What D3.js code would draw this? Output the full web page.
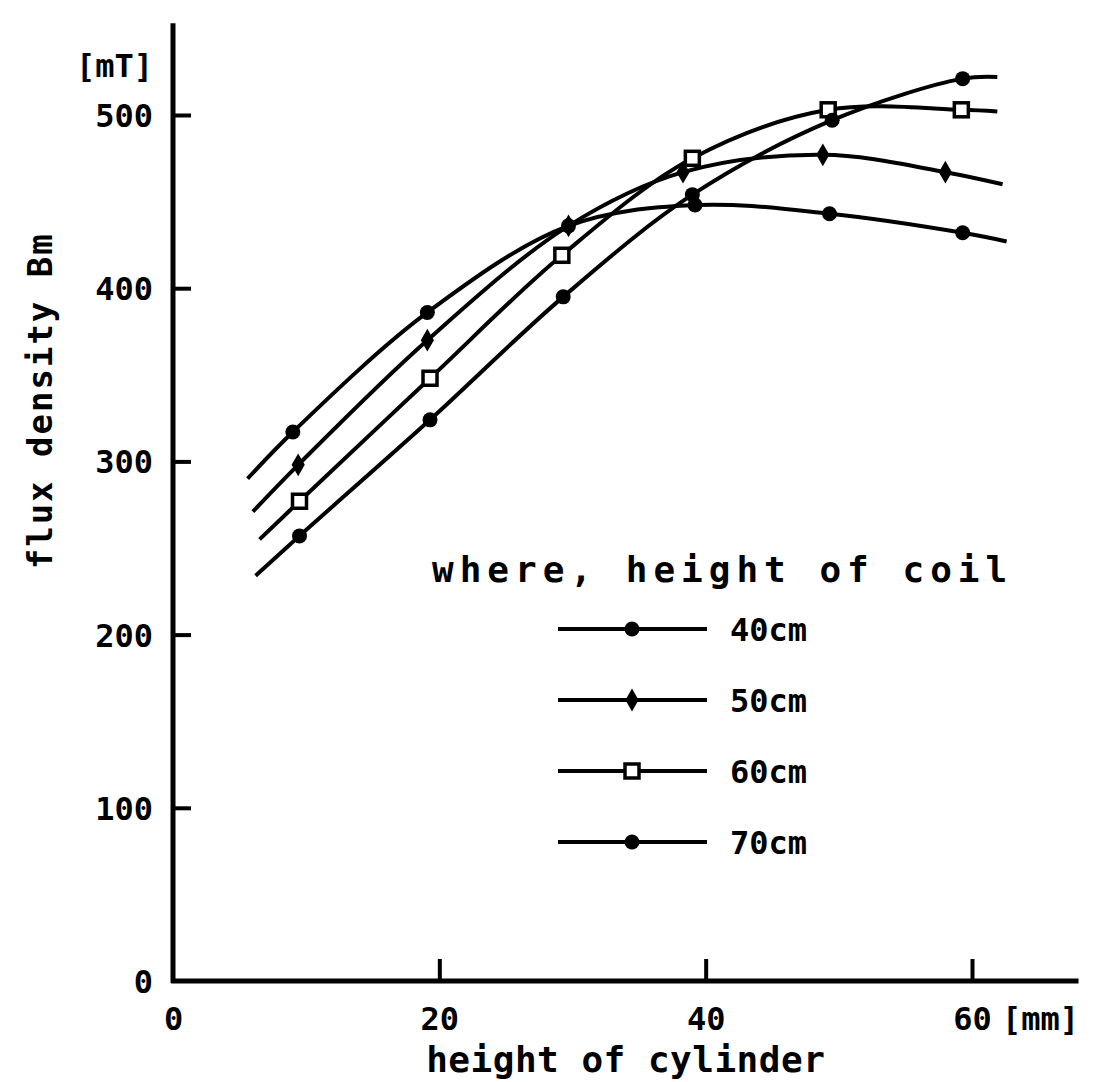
<!DOCTYPE html>
<html>
<head>
<meta charset="utf-8">
<script src="https://cdn.jsdelivr.net/npm/d3@7"></script>
<style>
  body { margin: 0; background: #fff; }
  text { font-family: "DejaVu Sans Mono", "Liberation Mono", monospace; font-weight: bold; fill: #000; }
</style>
</head>
<body>
<div id="chart"></div>
<script>
// values: x = height of cylinder [mm], y = Bm [mT]
// first and last entry of each series is only where the drawn line starts / stops (no marker there)
const coilHeights = ["40cm", "50cm", "60cm", "70cm"];
const cyl40 = [5.6, 9.0, 19.1, 29.7, 39.2, 49.3, 59.3, 62.6];
const flux40 = [290, 317, 386, 436, 448, 443, 432, 427];
const cyl50 = [6.0, 9.4, 19.1, 29.7, 38.3, 48.8, 58.0, 62.3];
const flux50 = [271, 298, 370, 436, 467, 477, 467, 460];
const cyl60 = [6.5, 9.5, 19.3, 29.2, 39.0, 49.2, 59.2, 61.9];
const flux60 = [255, 277, 348, 419, 475, 503, 503, 502];
const cyl70 = [6.2, 9.5, 19.3, 29.3, 39.0, 49.5, 59.3, 61.9];
const flux70 = [234, 257, 324, 395, 454, 497, 521, 522];
const markerKinds = ["dot", "diamond", "square", "dot"];

const xTicks = [0, 20, 40, 60];
const yTicks = [0, 100, 200, 300, 400, 500];

const width = 1098, height = 1082;

const svg = d3.select("#chart")
  .append("svg")
  .attr("width", width)
  .attr("height", height);

svg.append("rect").attr("width", width).attr("height", height).attr("fill", "#fff");

const x = d3.scaleLinear().domain([0, 60]).range([173, 972]);
const y = d3.scaleLinear().domain([0, 500]).range([981, 115]);

// axes, ticks pointing inwards like the original
const yAxis = svg.append("g")
  .attr("transform", `translate(${x(0)},0)`)
  .call(d3.axisLeft(y).tickValues(yTicks).tickSizeInner(-18).tickSizeOuter(0).tickPadding(20));
yAxis.select(".domain").remove();
yAxis.selectAll(".tick line").attr("stroke", "#000").attr("stroke-width", 4)
  .filter(d => d === 0).remove();
yAxis.selectAll(".tick text").style("font-size", "32px").attr("dy", "0.36em");

const xAxis = svg.append("g")
  .attr("transform", `translate(0,${y(0)})`)
  .call(d3.axisBottom(x).tickValues(xTicks).tickSizeInner(-22).tickSizeOuter(0).tickPadding(26));
xAxis.select(".domain").remove();
xAxis.selectAll(".tick line").attr("stroke", "#000").attr("stroke-width", 4)
  .filter(d => d === 0).remove();
xAxis.selectAll(".tick text").style("font-size", "32px");

// axis lines (y axis runs up past 500, x axis past 60)
svg.append("line")
  .attr("x1", x(0)).attr("x2", x(0))
  .attr("y1", y(0) + 2).attr("y2", y(553))
  .attr("stroke", "#000").attr("stroke-width", 5);
svg.append("line")
  .attr("x1", x(0) - 2).attr("x2", x(68))
  .attr("y1", y(0)).attr("y2", y(0))
  .attr("stroke", "#000").attr("stroke-width", 5);

// units
svg.append("text")
  .attr("x", x(0) - 20).attr("y", y(522))
  .attr("text-anchor", "end")
  .style("font-size", "32px")
  .text("[mT]");
svg.append("text")
  .attr("x", x(60) + 30).attr("y", y(0) + 26)
  .attr("dy", "0.71em")
  .style("font-size", "32px")
  .text("[mm]");

// axis titles
svg.append("text")
  .attr("x", x(34.0)).attr("y", 1072)
  .attr("text-anchor", "middle")
  .style("font-size", "36px")
  .style("letter-spacing", "0.5px")
  .text("height of cylinder");
svg.append("text")
  .attr("transform", `translate(52,${y(335)}) rotate(-90)`)
  .attr("text-anchor", "middle")
  .style("font-size", "34px")
  .style("letter-spacing", "2px")
  .text("flux density Bm");

// curves
const series = [
  { name: coilHeights[0], xs: cyl40, ys: flux40, kind: markerKinds[0] },
  { name: coilHeights[1], xs: cyl50, ys: flux50, kind: markerKinds[1] },
  { name: coilHeights[2], xs: cyl60, ys: flux60, kind: markerKinds[2] },
  { name: coilHeights[3], xs: cyl70, ys: flux70, kind: markerKinds[3] }
];

const line = d3.line()
  .x(d => x(d[0]))
  .y(d => y(d[1]))
  .curve(d3.curveCatmullRom.alpha(0.5));

function drawMarker(g, kind, px, py) {
  if (kind === "square") {
    g.append("rect")
      .attr("x", px - 7).attr("y", py - 7)
      .attr("width", 14).attr("height", 14)
      .attr("fill", "#fff").attr("stroke", "#000").attr("stroke-width", 3.5);
  } else if (kind === "diamond") {
    g.append("path")
      .attr("d", d3.symbol(d3.symbolDiamond, 150)())
      .attr("transform", `translate(${px},${py})`)
      .attr("fill", "#000");
  } else {
    g.append("circle")
      .attr("cx", px).attr("cy", py).attr("r", 7.5)
      .attr("fill", "#000");
  }
}

series.forEach(s => {
  const pts = s.xs.map((v, i) => [v, s.ys[i]]);
  svg.append("path")
    .datum(pts)
    .attr("d", line)
    .attr("fill", "none")
    .attr("stroke", "#000")
    .attr("stroke-width", 4);
  const g = svg.append("g");
  pts.slice(1, -1).forEach(p => drawMarker(g, s.kind, x(p[0]), y(p[1])));
});

// legend
const legend = svg.append("g");
legend.append("text")
  .attr("x", 432).attr("y", 582)
  .style("font-size", "36px")
  .style("letter-spacing", "6px")
  .text("where, height of coil");

series.forEach((s, i) => {
  const ly = 629 + i * 71;
  legend.append("line")
    .attr("x1", 558).attr("x2", 707)
    .attr("y1", ly).attr("y2", ly)
    .attr("stroke", "#000").attr("stroke-width", 4);
  drawMarker(legend, s.kind, 632, ly);
  legend.append("text")
    .attr("x", 730).attr("y", ly)
    .attr("dy", "0.36em")
    .style("font-size", "32px")
    .text(s.name);
});
</script>
</body>
</html>
